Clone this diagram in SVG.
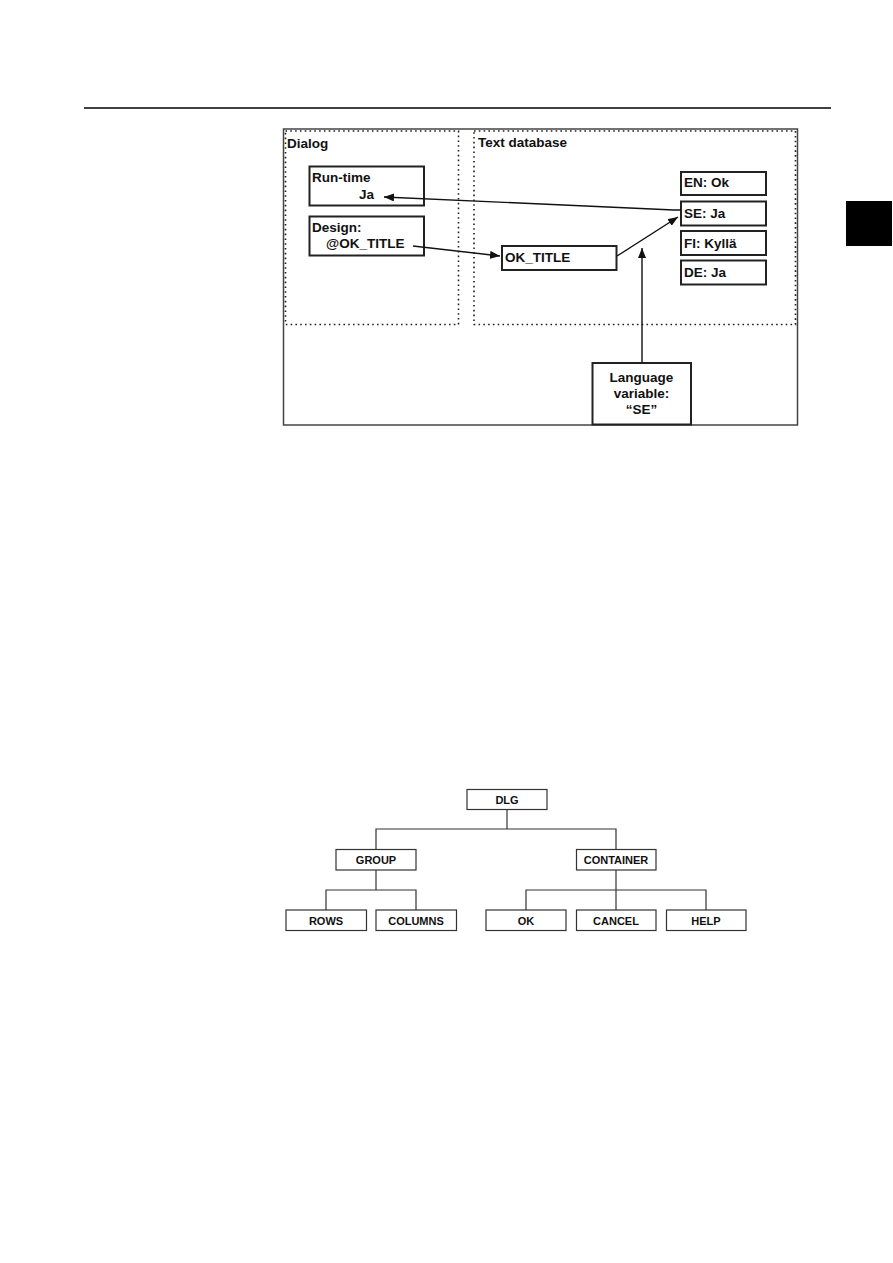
<svg xmlns="http://www.w3.org/2000/svg" width="893" height="1263" viewBox="0 0 893 1263">
<style>
text{font-family:"Liberation Sans",Arial,sans-serif;font-weight:bold;fill:#111}
.t1{font-size:13.5px}
.t2{font-size:11px}
.box{fill:#fff;stroke:#222;stroke-width:2}
.tbox{fill:#fff;stroke:#333;stroke-width:1.2}
.dot{fill:none;stroke:#222;stroke-width:1.6;stroke-dasharray:1.6 3.2}
.conn{fill:none;stroke:#111;stroke-width:1.4}
.tl{fill:none;stroke:#333;stroke-width:1.2}
</style>
<defs>
<marker id="ah" viewBox="0 0 10 8" refX="10" refY="4" markerWidth="10" markerHeight="8" markerUnits="userSpaceOnUse" orient="auto">
<path d="M0,0 L10,4 L0,8 z" fill="#111"/>
</marker>
</defs>
<rect width="893" height="1263" fill="#fff"/>
<line x1="84" y1="108" x2="831" y2="108" stroke="#000" stroke-width="1.6"/>
<rect x="846" y="201" width="46" height="45" fill="#000"/>

<g id="frame">
<rect x="283.5" y="129" width="514" height="296" fill="none" stroke="#444" stroke-width="1.5"/>
</g>
<g id="dialog">
<rect class="dot" x="285.5" y="131" width="173" height="193.5"/>
<text class="t1" x="287" y="148">Dialog</text>
</g>
<g id="textdb">
<rect class="dot" x="474" y="131" width="321.5" height="193.5"/>
<text class="t1" x="478" y="147">Text database</text>
</g>
<g id="runtime">
<rect class="box" x="309.5" y="166.5" width="114.5" height="39"/>
<text class="t1" x="312" y="182">Run-time</text>
<text class="t1" x="359" y="199">Ja</text>
</g>
<g id="design">
<rect class="box" x="309.5" y="216.5" width="114.5" height="39"/>
<text class="t1" x="312" y="232">Design:</text>
<text class="t1" x="326" y="248">@OK_TITLE</text>
</g>
<g id="oktitle">
<rect class="box" x="502" y="246" width="114.5" height="24"/>
<text class="t1" x="505" y="262">OK_TITLE</text>
</g>
<g id="en">
<rect class="box" x="681" y="172" width="85" height="23"/>
<text class="t1" x="684" y="187">EN: Ok</text>
</g>
<g id="se">
<rect class="box" x="681" y="201.5" width="85" height="24"/>
<text class="t1" x="684" y="217.5">SE: Ja</text>
</g>
<g id="fi">
<rect class="box" x="681" y="231" width="85" height="24"/>
<text class="t1" x="684" y="248">FI: Kyllä</text>
</g>
<g id="de">
<rect class="box" x="681" y="260.5" width="85" height="24"/>
<text class="t1" x="684" y="277">DE: Ja</text>
</g>
<g id="langvar">
<rect class="box" x="592.5" y="363" width="98.5" height="61.5"/>
<text class="t1" x="641.5" y="382" text-anchor="middle">Language</text>
<text class="t1" x="641.5" y="398" text-anchor="middle">variable:</text>
<text class="t1" x="641.5" y="414" text-anchor="middle">“SE”</text>
</g>

<g id="connectors">
<polyline class="conn" points="681,210 674,210 384,197" marker-end="url(#ah)"/>
<line class="conn" x1="413" y1="246" x2="500" y2="256" marker-end="url(#ah)"/>
<line class="conn" x1="617" y1="256" x2="678" y2="217" marker-end="url(#ah)"/>
<line class="conn" x1="642" y1="363" x2="642" y2="248" marker-end="url(#ah)"/>
</g>

<g id="tree-connectors">
<polyline class="tl" points="507,809 507,829"/>
<polyline class="tl" points="376,849 376,829 616,829 616,849"/>
<polyline class="tl" points="376,870 376,890"/>
<polyline class="tl" points="326,910 326,890 416,890 416,910"/>
<polyline class="tl" points="616,870 616,910"/>
<polyline class="tl" points="526,910 526,890 706,890 706,910"/>
</g>
<g id="dlg">
<rect class="tbox" x="467" y="789.5" width="80" height="20"/>
<text class="t2" x="507" y="803.5" text-anchor="middle">DLG</text>
</g>
<g id="group">
<rect class="tbox" x="336" y="849.5" width="80" height="20.5"/>
<text class="t2" x="376" y="864" text-anchor="middle">GROUP</text>
</g>
<g id="container">
<rect class="tbox" x="576.5" y="849.5" width="79.5" height="20.5"/>
<text class="t2" x="616" y="864" text-anchor="middle">CONTAINER</text>
</g>
<g id="rows">
<rect class="tbox" x="286" y="910" width="80.5" height="20.5"/>
<text class="t2" x="326" y="924.5" text-anchor="middle">ROWS</text>
</g>
<g id="columns">
<rect class="tbox" x="376" y="910" width="80.5" height="20.5"/>
<text class="t2" x="416" y="924.5" text-anchor="middle">COLUMNS</text>
</g>
<g id="ok">
<rect class="tbox" x="486" y="910" width="80" height="20.5"/>
<text class="t2" x="526" y="924.5" text-anchor="middle">OK</text>
</g>
<g id="cancel">
<rect class="tbox" x="576.5" y="910" width="79.5" height="20.5"/>
<text class="t2" x="616" y="924.5" text-anchor="middle">CANCEL</text>
</g>
<g id="help">
<rect class="tbox" x="666.5" y="910" width="79.5" height="20.5"/>
<text class="t2" x="706" y="924.5" text-anchor="middle">HELP</text>
</g>
</svg>
